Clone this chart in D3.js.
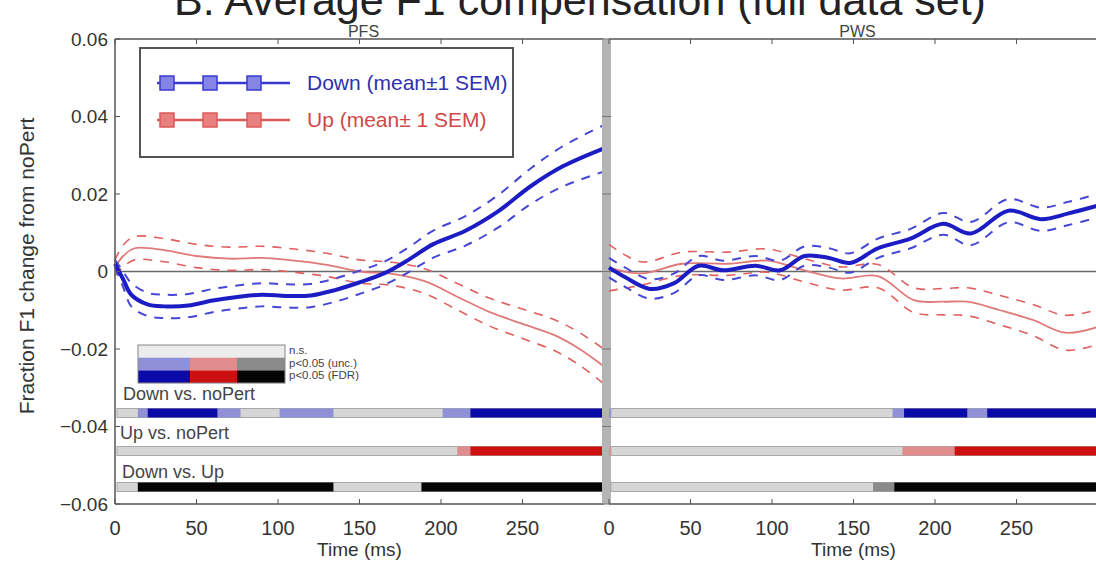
<!DOCTYPE html>
<html><head><meta charset="utf-8">
<script src="https://cdn.jsdelivr.net/npm/d3@7"></script>
<style>body{margin:0;background:#fff}svg{display:block}text{font-family:"Liberation Sans",Arial,sans-serif}</style>
</head><body><svg id="c" width="1096" height="563"></svg>
<script>
// ---------- data ----------
const titleText = "B. Average F1 compensation (full data set)";
const panelNames = ["PFS", "PWS"];
const yTicks = [0.06, 0.04, 0.02, 0, -0.02, -0.04, -0.06];
const yTickLabels = ["0.06", "0.04", "0.02", "0", "\u22120.02", "\u22120.04", "\u22120.06"];
const xTicks = [0, 50, 100, 150, 200, 250, 300];
const xTickLabelsL = ["0", "50", "100", "150", "200", "250", ""];
const xTickLabelsR = ["0", "50", "100", "150", "200", "250", ""];

// PFS (left)
const tDownL = [0, 5, 10, 20, 30, 45, 60, 75, 90, 105, 120, 135, 150, 165, 180, 195, 215, 235, 255, 275, 300];
const downMeanL = [0.002, -0.002, -0.006, -0.0085, -0.009, -0.0088, -0.0075, -0.0066, -0.006, -0.0063, -0.0062, -0.0048, -0.0028, -0.0005, 0.003, 0.007, 0.0105, 0.0155, 0.022, 0.0272, 0.0318];
const downSemL = [0.001, 0.002, 0.003, 0.003, 0.003, 0.003, 0.003, 0.003, 0.003, 0.003, 0.003, 0.003, 0.003, 0.003, 0.0032, 0.0035, 0.0038, 0.0042, 0.0046, 0.0052, 0.006];
const tUpL = [0, 5, 12, 30, 50, 70, 90, 110, 130, 150, 170, 190, 210, 230, 250, 270, 285, 300];
const upMeanL = [0.001, 0.004, 0.006, 0.0055, 0.004, 0.0033, 0.0035, 0.0028, 0.0017, 0.0, -0.0006, -0.0025, -0.0065, -0.0105, -0.0135, -0.0165, -0.020, -0.0245];
const upSemL = [0.002, 0.0028, 0.003, 0.003, 0.003, 0.003, 0.003, 0.003, 0.003, 0.003, 0.003, 0.0032, 0.0034, 0.0036, 0.0038, 0.004, 0.0042, 0.0045];

// PWS (right)
const tDownR = [0, 10, 25, 40, 55, 70, 90, 105, 120, 135, 148, 165, 185, 205, 222, 245, 265, 282, 300];
const downMeanR = [0.001, -0.0015, -0.0045, -0.003, 0.0015, 0.0003, 0.0015, 0.0003, 0.004, 0.0035, 0.0022, 0.006, 0.0085, 0.0123, 0.0098, 0.0157, 0.0135, 0.015, 0.017];
const downSemR = [0.0025, 0.0025, 0.0025, 0.0025, 0.0025, 0.0025, 0.0025, 0.0025, 0.0025, 0.0025, 0.0025, 0.0025, 0.0025, 0.0028, 0.003, 0.003, 0.003, 0.003, 0.003];
const tUpR = [0, 20, 45, 73, 97, 120, 142, 165, 187, 205, 220, 240, 260, 280, 300];
const upMeanR = [0.001, -0.0005, 0.002, 0.002, 0.0028, 0.0003, -0.0018, -0.0012, -0.0074, -0.0078, -0.0078, -0.010, -0.0125, -0.0158, -0.0143];
const upSemR = [0.006, 0.003, 0.003, 0.003, 0.003, 0.003, 0.003, 0.003, 0.0032, 0.0034, 0.0036, 0.0038, 0.004, 0.0045, 0.0045];

// significance segments: [start ms, end ms, level] (1 = p<0.05 unc., 2 = p<0.05 FDR)
const sigDownNoPertL = [[14, 20, 1], [20, 63, 2], [63, 77, 1], [101, 134, 1], [201, 218, 1], [218, 302, 2]];
const sigUpNoPertL = [[210, 218, 1], [218, 302, 2]];
const sigDownUpL = [[14, 134, 2], [188, 302, 2]];
const sigDownNoPertR = [[0, 1, 1], [174, 181, 1], [181, 220, 2], [220, 232, 1], [232, 300, 2]];
const sigUpNoPertR = [[0, 1, 1], [180, 212, 1], [212, 300, 2]];
const sigDownUpR = [[162, 175, 1], [175, 300, 2]];
const comparisonNames = ["Down vs. noPert", "Up vs. noPert", "Down vs. Up"];
const seriesNames = ["Down (mean\u00b11 SEM)", "Up (mean\u00b1 1 SEM)"];
const sigLevelNames = ["n.s.", "p<0.05 (unc.)", "p<0.05 (FDR)"];

// ---------- layout / style ----------
const svg = d3.select("#c");
const yTop = 39, yBot = 504;
const y = d3.scaleLinear().domain([-0.06, 0.06]).range([yBot, yTop]);
const xL = d3.scaleLinear().domain([0, 300]).range([115, 604]);
const xR = d3.scaleLinear().domain([0, 300]).range([609, 1098]);
const blue = "#1c1cc4", blueD = "#4747d6", red = "#e07a7a", redD = "#e06060";
const levelColors = [
  ["#d6d6d6", "#9090d8", "#0a0aa8"],
  ["#d6d6d6", "#e08c8c", "#cc1010"],
  ["#d6d6d6", "#8a8a8a", "#050505"]
];
const trackY = [413, 451, 487];
const trackH = 9;

// title
svg.append("text").attr("x", 580).attr("y", 15).attr("text-anchor", "middle")
  .attr("font-size", 43).attr("fill", "#222").text(titleText);

function panel(x, name, tickLabels, series, sigs) {
  const g = svg.append("g");
  const [x0, x1] = x.range();
  g.append("text").attr("x", (x0 + x1) / 2 + 4).attr("y", 37).attr("text-anchor", "middle")
    .attr("font-size", 16).attr("fill", "#444").text(name);
  g.append("line").attr("x1", x0).attr("x2", x1).attr("y1", y(0)).attr("y2", y(0))
    .attr("stroke", "#6a6a6a").attr("stroke-width", 1.5);
  const line = (ts) => d3.line().x((d, i) => x(ts[i])).y(d => y(d)).curve(d3.curveCatmullRom);
  series.forEach(s => {
    const up = s.mean.map((m, i) => m + s.sem[i]);
    const lo = s.mean.map((m, i) => m - s.sem[i]);
    [up, lo].forEach(arr => g.append("path").attr("d", line(s.t)(arr)).attr("fill", "none")
      .attr("stroke", s.dash).attr("stroke-width", s.dw).attr("stroke-dasharray", "9,8"));
    g.append("path").attr("d", line(s.t)(s.mean)).attr("fill", "none")
      .attr("stroke", s.color).attr("stroke-width", s.w);
  });
  g.append("line").attr("x1", x0).attr("x2", x1).attr("y1", yTop).attr("y2", yTop).attr("stroke", "#555").attr("stroke-width", 1.5);
  g.append("line").attr("x1", x0).attr("x2", x1).attr("y1", yBot).attr("y2", yBot).attr("stroke", "#555").attr("stroke-width", 1.5);
  xTicks.forEach((t, i) => {
    g.append("line").attr("x1", x(t)).attr("x2", x(t)).attr("y1", yBot).attr("y2", yBot - 5).attr("stroke", "#555");
    g.append("line").attr("x1", x(t)).attr("x2", x(t)).attr("y1", yTop).attr("y2", yTop + 5).attr("stroke", "#555");
    if (tickLabels[i]) g.append("text").attr("x", x(t)).attr("y", 535).attr("text-anchor", "middle")
      .attr("font-size", 20).attr("fill", "#333").text(tickLabels[i]);
  });
  g.append("text").attr("x", (x0 + x1) / 2).attr("y", 556).attr("text-anchor", "middle")
    .attr("font-size", 19).attr("fill", "#333").text("Time (ms)");
  sigs.forEach((segs, k) => {
    g.append("rect").attr("x", x0 + 2).attr("y", trackY[k] - trackH / 2).attr("width", x1 - x0 - 2).attr("height", trackH)
      .attr("fill", levelColors[k][0]).attr("stroke", "#a8a8a8").attr("stroke-width", 1);
    segs.forEach(s => g.append("rect").attr("x", x(s[0])).attr("y", trackY[k] - trackH / 2)
      .attr("width", x(s[1]) - x(s[0])).attr("height", trackH).attr("fill", levelColors[k][s[2]]));
  });
  return g;
}

panel(xL, panelNames[0], xTickLabelsL, [
  {t: tUpL, mean: upMeanL, sem: upSemL, color: red, dash: redD, w: 1.8, dw: 1.6},
  {t: tDownL, mean: downMeanL, sem: downSemL, color: blue, dash: blueD, w: 4, dw: 2}
], [sigDownNoPertL, sigUpNoPertL, sigDownUpL]);

svg.append("rect").attr("x", 602).attr("y", yTop).attr("width", 9).attr("height", yBot - yTop).attr("fill", "#b4b4b4");

panel(xR, panelNames[1], xTickLabelsR, [
  {t: tUpR, mean: upMeanR, sem: upSemR, color: red, dash: redD, w: 1.8, dw: 1.6},
  {t: tDownR, mean: downMeanR, sem: downSemR, color: blue, dash: blueD, w: 4, dw: 2}
], [sigDownNoPertR, sigUpNoPertR, sigDownUpR]);

svg.append("line").attr("x1", 115).attr("x2", 115).attr("y1", yTop).attr("y2", yBot).attr("stroke", "#555").attr("stroke-width", 1.5);
yTicks.forEach((v, i) => {
  svg.append("line").attr("x1", 115).attr("x2", 120).attr("y1", y(v)).attr("y2", y(v)).attr("stroke", "#555");
  svg.append("line").attr("x1", 602).attr("x2", 611).attr("y1", y(v)).attr("y2", y(v)).attr("stroke", "#777");
  svg.append("text").attr("x", 108).attr("y", y(v)).attr("dy", "0.35em").attr("text-anchor", "end")
    .attr("font-size", 19).attr("fill", "#333").text(yTickLabels[i]);
});
svg.append("text").attr("transform", "translate(34,266) rotate(-90)").attr("text-anchor", "middle")
  .attr("font-size", 21).attr("fill", "#333").text("Fraction F1 change from noPert");

[[123, 400], [120, 439], [122, 478]].forEach((p, k) =>
  svg.append("text").attr("x", p[0]).attr("y", p[1]).attr("font-size", 18).attr("fill", "#444").text(comparisonNames[k]));

const sigLegX = [138, 190, 237, 285];
[0, 1, 2].forEach(lvl => [0, 1, 2].forEach(k => {
  const rowH = 12.7;
  svg.append("rect").attr("x", sigLegX[k]).attr("y", 345 + lvl * rowH).attr("width", sigLegX[k + 1] - sigLegX[k]).attr("height", rowH)
    .attr("fill", lvl === 0 ? "#ececec" : levelColors[k][lvl]);
}));
svg.append("rect").attr("x", 138).attr("y", 345).attr("width", 147).attr("height", 38).attr("fill", "none").attr("stroke", "#888");
sigLevelNames.forEach((s, i) => svg.append("text").attr("x", 289).attr("y", 354 + i * 12.7).attr("font-size", 11.5)
  .attr("fill", "#444").text(s));

svg.append("rect").attr("x", 140).attr("y", 48).attr("width", 373).attr("height", 109).attr("fill", "#fff")
  .attr("stroke", "#555").attr("stroke-width", 2);
[[83, "#3a3ad0", "#8585e6", "#3030b0"], [120, "#dd5a5a", "#e88080", "#d04848"]].forEach((r, i) => {
  svg.append("line").attr("x1", 157).attr("x2", 290).attr("y1", r[0]).attr("y2", r[0]).attr("stroke", r[1]).attr("stroke-width", 2.5);
  [167, 210, 254].forEach(cx => svg.append("rect").attr("x", cx - 7).attr("y", r[0] - 7).attr("width", 14).attr("height", 14)
    .attr("fill", r[2]).attr("stroke", r[1]).attr("stroke-width", 1.5));
  svg.append("text").attr("x", 307).attr("y", r[0] + 7).attr("font-size", 21).attr("fill", r[3]).text(seriesNames[i]);
});
</script></body></html>
